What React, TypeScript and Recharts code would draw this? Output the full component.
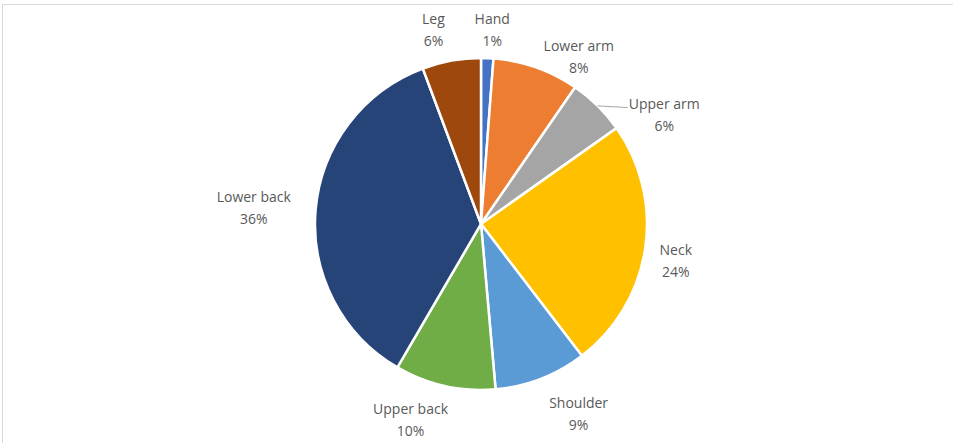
import { PieChart, Pie, Cell } from "recharts";

const bodyParts = ["Hand", "Lower arm", "Upper arm", "Neck", "Shoulder", "Upper back", "Lower back", "Leg"];
const shares = [1.2, 8.4, 5.6, 24.4, 9.0, 9.8, 35.9, 5.7];
const sliceColors = ["#4472C4", "#ED7D31", "#A5A5A5", "#FFC000", "#5B9BD5", "#70AD47", "#264478", "#9E480E"];

const chartData = bodyParts.map((name, i) => ({ name, value: shares[i] }));

const RAD = Math.PI / 180;

// manual nudges, like Excel's "best fit" label placement
const labelNudge: Record<string, [number, number]> = {
  Hand: [4, 1],
  "Lower arm": [28, 17],
  "Upper arm": [36, 30],
  Neck: [5, 7],
  Shoulder: [23, 7],
  "Upper back": [-24, 4],
  "Lower back": [-15, 0],
  Leg: [-14, -2],
};

interface LabelProps {
  cx: number;
  cy: number;
  midAngle: number;
  outerRadius: number;
  name: string;
  percent: number;
}

function SliceLabel({ cx, cy, midAngle, outerRadius, name, percent }: LabelProps) {
  const sx = Math.cos(midAngle * RAD);
  const sy = -Math.sin(midAngle * RAD);
  const halfW = (name.length * 7) / 2;
  const [nx, ny] = labelNudge[name] ?? [0, 0];
  const x = cx + sx * (outerRadius + 12) + sx * halfW + nx;
  const y = cy + sy * (outerRadius + 12) + sy * 18 + ny;
  const withLeader = name === "Upper arm";
  return (
    <g>
      {withLeader && (
        <polyline
          points={`${cx + sx * outerRadius},${cy + sy * outerRadius} ${x - halfW - 5},${y - 7}`}
          fill="none"
          stroke="#a6a6a6"
          strokeWidth={1}
        />
      )}
      <text
        x={x}
        y={y - 11}
        textAnchor="middle"
        dominantBaseline="central"
        fill="#595959"
        fontSize={14}
        fontFamily="'Open Sans', sans-serif"
      >
        {name}
      </text>
      <text
        x={x}
        y={y + 11}
        textAnchor="middle"
        dominantBaseline="central"
        fill="#595959"
        fontSize={14}
        fontFamily="'Open Sans', sans-serif"
      >
        {`${Math.round(percent * 100)}%`}
      </text>
    </g>
  );
}

export default function App() {
  return (
    <div style={{ position: "absolute", left: 0, top: 0, width: 953, height: 443, background: "#fff" }}>
      <div
        style={{
          position: "absolute",
          left: 2,
          top: 4,
          right: 0,
          bottom: 0,
          borderTop: "1px solid #d9d9d9",
          borderLeft: "1px solid #d9d9d9",
        }}
      />
      <PieChart
        width={953}
        height={443}
        margin={{ top: 0, right: 0, bottom: 0, left: 0 }}
        style={{ position: "absolute", left: 0, top: 0 }}
      >
        <Pie
          data={chartData}
          dataKey="value"
          nameKey="name"
          cx={481}
          cy={224}
          outerRadius={166}
          startAngle={90}
          endAngle={-270}
          stroke="#ffffff"
          strokeWidth={2.5}
          labelLine={false}
          label={(props: any) => <SliceLabel {...props} />}
          isAnimationActive={false}
        >
          {chartData.map((d, i) => (
            <Cell key={d.name} fill={sliceColors[i]} />
          ))}
        </Pie>
      </PieChart>
    </div>
  );
}
